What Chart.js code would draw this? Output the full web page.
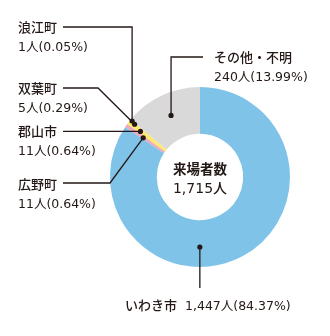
<!DOCTYPE html>
<html><head><meta charset="utf-8">
<script src="https://cdn.jsdelivr.net/npm/chart.js@4"></script>
<style>html,body{margin:0;padding:0;background:#fff}#wrap{width:330px;height:336px}</style>
</head><body><div id="wrap"><canvas id="c" width="330" height="336"></canvas></div>
<script>
const categories = ['いわき市','広野町','郡山市','双葉町','浪江町','その他・不明'];
const counts = [1447, 11, 11, 5, 1, 240];
const percents = ['84.37','0.64','0.64','0.29','0.05','13.99'];
const totalLabel = '来場者数';
const totalCount = 1715;
const colors = ['#7fc3e8','#f2a6bb','#fbea6a','#f8e46a','#f6e27a','#d9d9d9'];

const FONT = '"DejaVu Sans", "Noto Sans CJK JP", sans-serif';
const JFONT = '"Noto Sans CJK JP", sans-serif';
const INK = '#231815';
const fmt = n => n.toLocaleString('en-US');

// callout layout: angle fraction within slice, radius for the dot, elbow points, text anchor (left, vertical centre)
const callouts = [
  {frac:0.593, r:70, path:(d)=>[[d.x,288]], text:[125,305], single:true},
  {frac:0.35, r:69, path:(d)=>[[110,183],[63,183]], text:[18,184]},
  {frac:0.6, r:75, path:(d)=>[[63,d.y]], text:[18,131]},
  {frac:0.5, r:84, path:(d)=>[[98,88],[63,88]], text:[18,88]},
  {frac:0.5, r:88, path:(d)=>[[d.x,27],[63,27]], text:[18,27]},
  {frac:0.5, r:68, path:(d)=>[[d.x,57],[203,57]], text:[214,57]}
];

const calloutPlugin = {
  id:'callouts',
  afterDatasetsDraw(chart){
    const ctx = chart.ctx;
    const arcs = chart.getDatasetMeta(0).data;
    ctx.save();
    arcs.forEach((arc,i)=>{
      const p = arc.getProps(['x','y','startAngle','endAngle'], true);
      const c = callouts[i];
      const a = p.startAngle + (p.endAngle - p.startAngle)*c.frac;
      const d = {x: p.x + Math.cos(a)*c.r, y: p.y + Math.sin(a)*c.r};
      ctx.strokeStyle = INK; ctx.lineWidth = 1.3;
      ctx.beginPath(); ctx.moveTo(d.x,d.y);
      c.path(d).forEach(pt=>ctx.lineTo(pt[0],pt[1]));
      ctx.stroke();
      ctx.fillStyle = INK;
      ctx.beginPath(); ctx.arc(d.x,d.y,2.6,0,Math.PI*2); ctx.fill();
      ctx.textBaseline = 'alphabetic'; ctx.textAlign = 'left';
      const valueText = fmt(counts[i]) + '人(' + percents[i] + '%)';
      const by = c.text[1] + 4.5;
      ctx.font = '500 13px ' + JFONT;
      ctx.fillText(categories[i], c.text[0], by);
      const w = ctx.measureText(categories[i]).width;
      ctx.font = '400 12.5px ' + FONT;
      if (c.single){
        ctx.fillText(valueText, c.text[0] + w + 8, by);
      } else {
        ctx.fillText(valueText, c.text[0], by + 19.5);
      }
    });
    // center text
    const p0 = arcs[0].getProps(['x','y'], true);
    ctx.textAlign = 'center';
    ctx.textBaseline = 'alphabetic';
    ctx.font = 'bold 13.5px ' + JFONT;
    ctx.fillText(totalLabel, p0.x, p0.y - 3);
    ctx.font = '500 14px ' + FONT;
    ctx.fillText(fmt(totalCount) + '人', p0.x, p0.y + 16);
    ctx.restore();
  }
};

new Chart(document.getElementById('c'), {
  type:'doughnut',
  data:{ labels:categories, datasets:[{ data:counts, backgroundColor:colors, borderWidth:0 }] },
  options:{
    responsive:false, animation:false, cutout:'48%',
    layout:{ padding:{ left:110, right:40, top:87, bottom:69 } },
    plugins:{ legend:{display:false}, tooltip:{enabled:false} }
  },
  plugins:[calloutPlugin]
});
</script></body></html>
